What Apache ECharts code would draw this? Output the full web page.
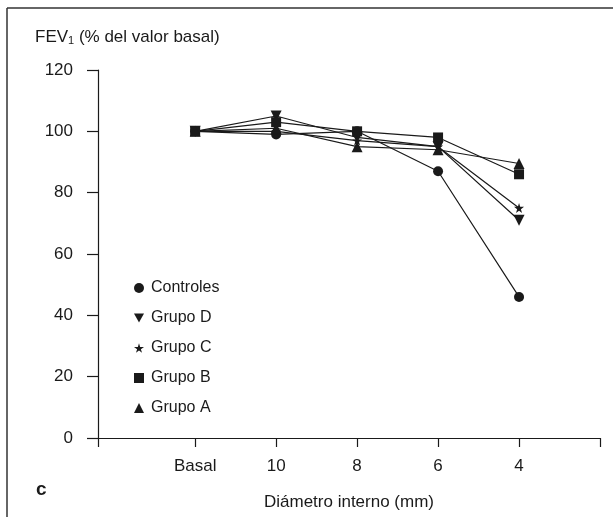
<!DOCTYPE html>
<html>
<head>
<meta charset="utf-8">
<script src="https://cdn.jsdelivr.net/npm/echarts@6/dist/echarts.min.js"></script>
<style>
  html, body { margin: 0; padding: 0; background: #fff; }
  #container { width: 613px; height: 517px; }
</style>
</head>
<body>
<div id="container"></div>
<script>
// datos
var categorias = ['Basal', '10', '8', '6', '4'];
var controles = [100, 99, 100, 87, 46];
var grupoD = [100, 105, 98, 95, 71];
var grupoC = [100, 100, 97, 95, 75];
var grupoB = [100, 103, 100, 98, 86];
var grupoA = [100, 101, 95, 94, 89.5];
var yTicks = [0, 20, 40, 60, 80, 100, 120];

var fuente = '"Liberation Sans", Arial, sans-serif';
var negro = '#1a1a1a';
var estrella = 'path://M50,0 L61,35 L98,35 L68,57 L79,91 L50,70 L21,91 L32,57 L2,35 L39,35 Z';
var trianguloAbajo = 'path://M0,0 L10,0 L5,9 Z';

// posicion de cada categoria en el eje x (1..5)
function puntos(valores) {
    var out = [];
    for (var i = 0; i < valores.length; i++) {
        out.push([i + 1, valores[i]]);
    }
    return out;
}

function serie(nombre, valores, simbolo, tam) {
    return {
        name: nombre,
        type: 'line',
        data: puntos(valores),
        symbol: simbolo,
        symbolSize: tam,
        lineStyle: { color: negro, width: 1.2 },
        itemStyle: { color: negro },
        emphasis: { disabled: true },
        z: 3
    };
}

var myChart = echarts.init(document.getElementById('container'));
var option = {
    animation: false,
    backgroundColor: '#fff',
    textStyle: { fontFamily: fuente, color: negro },
    grid: { left: 98, right: 13, top: 70, bottom: 79 },
    legend: {
        orient: 'vertical',
        left: 129,
        top: 275,
        itemWidth: 10,
        itemHeight: 10,
        itemGap: 14,
        textStyle: { fontSize: 16, color: negro, fontFamily: fuente, padding: [0, 0, 0, 2] },
        data: [
            { name: 'Controles', icon: 'circle' },
            { name: 'Grupo D', icon: trianguloAbajo },
            { name: 'Grupo C', icon: estrella },
            { name: 'Grupo B', icon: 'rect' },
            { name: 'Grupo A', icon: 'triangle' }
        ],
        selectedMode: false
    },
    xAxis: {
        type: 'value',
        min: -0.2,
        max: 6,
        splitLine: { show: false },
        axisLine: { show: true, onZero: false, lineStyle: { color: negro, width: 1.2 } },
        axisTick: { show: true, length: 9, customValues: [-0.2, 1, 2, 3, 4, 5, 6], lineStyle: { color: negro, width: 1.2 } },
        axisLabel: {
            customValues: [1, 2, 3, 4, 5],
            margin: 20,
            fontSize: 17,
            color: negro,
            fontFamily: fuente,
            formatter: function (v) { return categorias[Math.round(v) - 1]; }
        },
        name: 'Diámetro interno (mm)',
        nameLocation: 'middle',
        nameGap: 56,
        nameTextStyle: { fontSize: 17, color: negro, fontFamily: fuente }
    },
    yAxis: {
        type: 'value',
        min: yTicks[0],
        max: yTicks[yTicks.length - 1],
        interval: 20,
        splitLine: { show: false },
        axisLine: { show: true, onZero: false, lineStyle: { color: negro, width: 1.2 } },
        axisTick: { show: true, length: 11, lineStyle: { color: negro, width: 1.2 } },
        axisLabel: { margin: 25, fontSize: 17, color: negro, fontFamily: fuente }
    },
    graphic: [
        { type: 'line', shape: { x1: 7, y1: 8, x2: 613, y2: 8 }, style: { stroke: '#333', lineWidth: 1.5 } },
        { type: 'line', shape: { x1: 7, y1: 8, x2: 7, y2: 517 }, style: { stroke: '#333', lineWidth: 1.5 } },
        {
            type: 'text', left: 35, top: 29,
            style: {
                text: '{a|FEV}{s|1}{a| (% del valor basal)}',
                rich: {
                    a: { fontSize: 17, fontFamily: fuente, fill: negro },
                    s: { fontSize: 11, fontFamily: fuente, fill: negro, padding: [7, 0, 0, 0] }
                }
            }
        },
        {
            type: 'text', left: 36, top: 480,
            style: { text: 'c', fontSize: 19, fontWeight: 'bold', fontFamily: fuente, fill: negro }
        }
    ],
    series: [
        serie('Controles', controles, 'circle', 10),
        serie('Grupo D', grupoD, trianguloAbajo, 11),
        serie('Grupo C', grupoC, estrella, 10),
        serie('Grupo B', grupoB, 'rect', 10),
        serie('Grupo A', grupoA, 'triangle', 11)
    ]
};
myChart.setOption(option);
</script>
</body>
</html>
